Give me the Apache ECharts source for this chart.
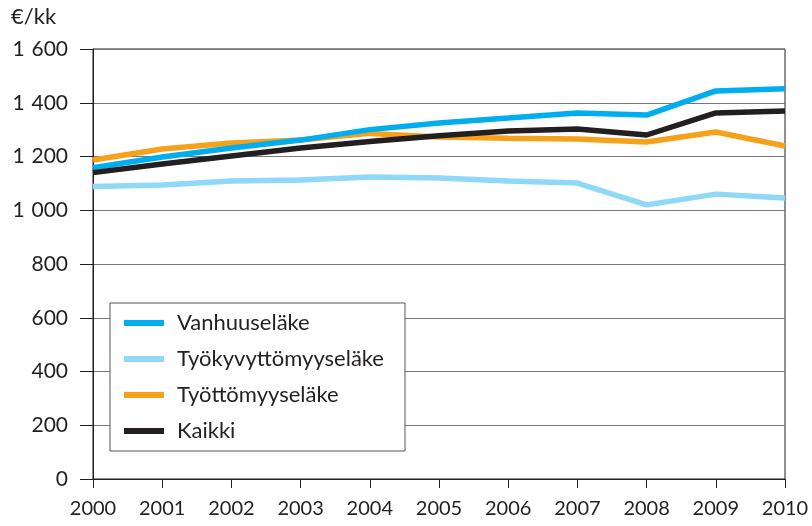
<html>
<head>
    <meta charset="utf-8">
    <script src="https://cdn.jsdelivr.net/npm/echarts@6/dist/echarts.min.js"></script>
</head>
<body style="margin: 0">
    <div id="container" style="width: 812px; height: 526px"></div>
    <script>
        var years = ['2000', '2001', '2002', '2003', '2004', '2005', '2006', '2007', '2008', '2009', '2010'];
        var vanhuus = [1158, 1198, 1232, 1261, 1300, 1325, 1343, 1362, 1354, 1444, 1452];
        var tyokyvyttomyys = [1088, 1094, 1109, 1113, 1124, 1120, 1109, 1101, 1020, 1060, 1046];
        var tyottomyys = [1187, 1228, 1250, 1261, 1286, 1273, 1268, 1265, 1254, 1291, 1239];
        var kaikki = [1140, 1172, 1202, 1232, 1256, 1277, 1295, 1302, 1280, 1362, 1369];

        var font = 'Lato';
        var dom = document.getElementById('container');
        var myChart = echarts.init(dom);

        function line(name, data, color) {
            return {
                name: name,
                type: 'line',
                data: data,
                symbol: 'none',
                color: color,
                lineStyle: { width: 5.5, color: color },
                animation: false
            };
        }

        var option = {
            backgroundColor: '#fff',
            textStyle: { fontFamily: font },
            grid: {
                left: 93, right: 27, top: 49, bottom: 47,
                show: true, borderColor: '#231f20', borderWidth: 1
            },
            graphic: [{
                type: 'text', left: 11, top: 6,
                style: { text: '€/kk', font: '22px Lato', fill: '#231f20' }
            }],
            legend: {
                left: 110, top: 303,
                orient: 'vertical',
                icon: 'rect',
                itemWidth: 40, itemHeight: 6,
                itemGap: 14,
                padding: [9, 21, 9, 14],
                borderColor: '#555', borderWidth: 1,
                backgroundColor: '#fff',
                textStyle: { fontFamily: font, fontSize: 22, color: '#231f20', padding: [0, 0, 0, 8] },
                data: ['Vanhuuseläke', 'Työkyvyttömyyseläke', 'Työttömyyseläke', 'Kaikki']
            },
            xAxis: {
                type: 'category',
                data: years,
                boundaryGap: false,
                axisLine: { lineStyle: { color: '#231f20', width: 1 } },
                axisTick: { length: 9, lineStyle: { color: '#231f20' } },
                axisLabel: { fontSize: 20, color: '#231f20', margin: 20, fontFamily: font }
            },
            yAxis: {
                type: 'value',
                min: 0, max: 1600, interval: 200,
                axisLine: { show: true, lineStyle: { color: '#231f20', width: 1 } },
                axisTick: { show: true, length: 13, lineStyle: { color: '#231f20' } },
                splitLine: { lineStyle: { color: '#777', width: 1 } },
                axisLabel: {
                    fontSize: 21, color: '#231f20', margin: 25, fontFamily: font,
                    formatter: function (v) {
                        return v >= 1000 ? Math.floor(v / 1000) + ' \u200a' + String(v % 1000).padStart(3, '0') : String(v);
                    }
                }
            },
            series: [
                line('Työkyvyttömyyseläke', tyokyvyttomyys, '#8fd8f8'),
                line('Työttömyyseläke', tyottomyys, '#f7a11a'),
                line('Vanhuuseläke', vanhuus, '#00aeef'),
                line('Kaikki', kaikki, '#231f20')
            ]
        };

        myChart.setOption(option);
    </script>
</body>
</html>
